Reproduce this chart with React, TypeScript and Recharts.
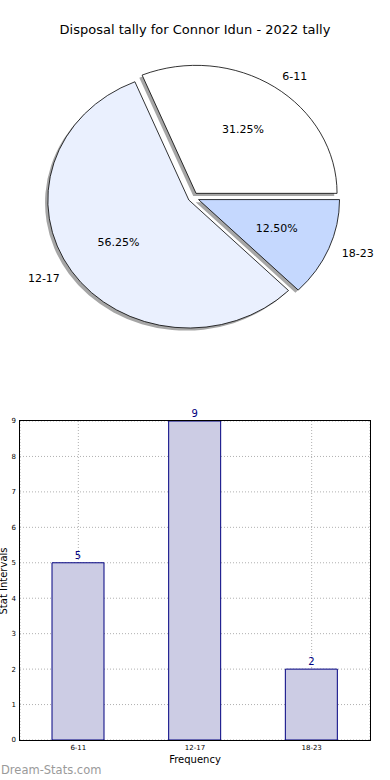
import React from "react";
import {
    PieChart,
    Pie,
    BarChart,
    Bar,
    XAxis,
    YAxis,
    CartesianGrid,
    LabelList,
} from "recharts";

const categories = ["6-11", "12-17", "18-23"];
const tallies = [5, 9, 2];
const sliceColors = ["#ffffff", "#eaf0fe", "#c5d8fe"];
const yTicks = [0, 1, 2, 3, 4, 5, 6, 7, 8, 9];

const pieData = categories.map((name, i) => ({ name, value: tallies[i] }));
const barData = categories.map((name, i) => ({ name, value: tallies[i] }));

const FONT = "'DejaVu Sans', sans-serif";
const RX = 141;
const RY = 128;
const SQUASH = RY / RX;
const explode: Record<string, number> = { "6-11": 5.5, "12-17": 5, "18-23": 6 };
const RAD = Math.PI / 180;

// matplotlib draws the pie stretched, so the wedges are elliptical
const wedgePath = (vx: number, vy: number, s: number, e: number) => {
    const x1 = vx + RX * Math.cos(s * RAD);
    const y1 = vy - RY * Math.sin(s * RAD);
    const x2 = vx + RX * Math.cos(e * RAD);
    const y2 = vy - RY * Math.sin(e * RAD);
    const large = e - s > 180 ? 1 : 0;
    return `M${vx},${vy} L${x1},${y1} A${RX},${RY} 0 ${large} 0 ${x2},${y2} Z`;
};

const vertex = (props: any) => {
    const d = explode[props.payload?.name ?? props.name] ?? 0;
    const mid = props.midAngle * RAD;
    return {
        vx: props.cx + d * Math.cos(mid),
        vy: props.cy - d * SQUASH * Math.sin(mid),
    };
};

const ShadowWedge = (props: any) => {
    const { vx, vy } = vertex(props);
    return (
        <path
            d={wedgePath(vx - 2.8, vy + 2.6, props.startAngle, props.endAngle)}
            fill="#4d4d4d"
            fillOpacity={0.5}
            stroke="none"
        />
    );
};

const Wedge = (props: any) => {
    const { vx, vy } = vertex(props);
    const mid = props.midAngle * RAD;
    const c = Math.cos(mid);
    const s = Math.sin(mid);
    const lx = vx + 1.1 * RX * c;
    const ly = vy - 1.1 * RY * s;
    const px = vx + 0.6 * RX * c;
    const py = vy - 0.6 * RY * s;
    const name = props.payload?.name ?? props.name;
    const pct = (props.percent * 100).toFixed(2) + "%";
    return (
        <g>
            <path
                d={wedgePath(vx, vy, props.startAngle, props.endAngle)}
                fill={props.fill}
                stroke="#000"
                strokeWidth={0.8}
            />
            <text
                x={lx}
                y={ly}
                textAnchor={c >= 0 ? "start" : "end"}
                dominantBaseline="central"
                fontSize={11}
                fontFamily={FONT}
                fill="#000"
            >
                {name}
            </text>
            <text
                x={px}
                y={py}
                textAnchor="middle"
                dominantBaseline="central"
                fontSize={11}
                fontFamily={FONT}
                fill="#000"
            >
                {pct}
            </text>
        </g>
    );
};

const pieCells = pieData.map((d, i) => ({ ...d, fill: sliceColors[i] }));

export default function App() {
    return (
        <div
            style={{
                position: "absolute",
                top: 0,
                left: 0,
                width: 390,
                height: 780,
                background: "#fff",
                overflow: "hidden",
                fontFamily: FONT,
            }}
        >
            <div
                style={{
                    position: "absolute",
                    top: 22,
                    left: 0,
                    width: 390,
                    textAlign: "center",
                    fontSize: 13,
                    lineHeight: "16px",
                    color: "#000",
                }}
            >
                Disposal tally for Connor Idun - 2022 tally
            </div>

            <div style={{ position: "absolute", top: 0, left: 0 }}>
                <PieChart
                    width={390}
                    height={360}
                    margin={{ top: 0, right: 0, bottom: 0, left: 0 }}
                >
                    <Pie
                        data={pieCells}
                        dataKey="value"
                        nameKey="name"
                        cx={193}
                        cy={197.5}
                        outerRadius={RX}
                        startAngle={0}
                        endAngle={360}
                        label={false}
                        labelLine={false}
                        shape={ShadowWedge}
                        isAnimationActive={false}
                    />
                    <Pie
                        data={pieCells}
                        dataKey="value"
                        nameKey="name"
                        cx={193}
                        cy={197.5}
                        outerRadius={RX}
                        startAngle={0}
                        endAngle={360}
                        label={false}
                        labelLine={false}
                        shape={Wedge}
                        isAnimationActive={false}
                    />
                </PieChart>
            </div>

            <div style={{ position: "absolute", top: 400, left: 0 }}>
                <BarChart
                    width={390}
                    height={380}
                    data={barData}
                    margin={{ top: 21, right: 20, bottom: 0, left: 0 }}
                >
                    <CartesianGrid stroke="#b0b0b0" strokeDasharray="1 2" />
                    <XAxis
                        dataKey="name"
                        height={40}
                        axisLine={false}
                        tickLine={false}
                        tickSize={3}
                        tickMargin={2}
                        tick={{ fontSize: 7, fill: "#000", fontFamily: FONT }}
                    />
                    <YAxis
                        width={20}
                        domain={[0, 9]}
                        ticks={yTicks}
                        axisLine={false}
                        tickLine={false}
                        tickSize={3}
                        tickMargin={1}
                        tick={{ fontSize: 7, fill: "#000", fontFamily: FONT }}
                    />
                    <Bar
                        dataKey="value"
                        barSize={52}
                        fill="#ccccE4"
                        stroke="#000080"
                        strokeWidth={1}
                        isAnimationActive={false}
                    >
                        <LabelList
                            dataKey="value"
                            position="top"
                            offset={4}
                            fill="#000080"
                            fontSize={10}
                            fontFamily={FONT}
                        />
                    </Bar>
                </BarChart>
            </div>

            <div
                style={{
                    position: "absolute",
                    top: 420,
                    left: 19,
                    width: 352,
                    height: 321,
                    border: "1px solid #000",
                    boxSizing: "border-box",
                    pointerEvents: "none",
                }}
            />

            <div
                style={{
                    position: "absolute",
                    top: 754,
                    left: 0,
                    width: 390,
                    textAlign: "center",
                    fontSize: 10,
                    lineHeight: "12px",
                    color: "#000",
                }}
            >
                Frequency
            </div>

            <div
                style={{
                    position: "absolute",
                    left: 4,
                    top: 581,
                    transform: "translate(-50%, -50%) rotate(-90deg)",
                    whiteSpace: "nowrap",
                    fontSize: 10,
                    lineHeight: "12px",
                    color: "#000",
                }}
            >
                Stat Intervals
            </div>

            <div
                style={{
                    position: "absolute",
                    left: 1,
                    top: 763,
                    fontSize: 11.5,
                    lineHeight: "14px",
                    color: "#9a9a9a",
                    whiteSpace: "nowrap",
                }}
            >
                Dream-Stats.com
            </div>
        </div>
    );
}
